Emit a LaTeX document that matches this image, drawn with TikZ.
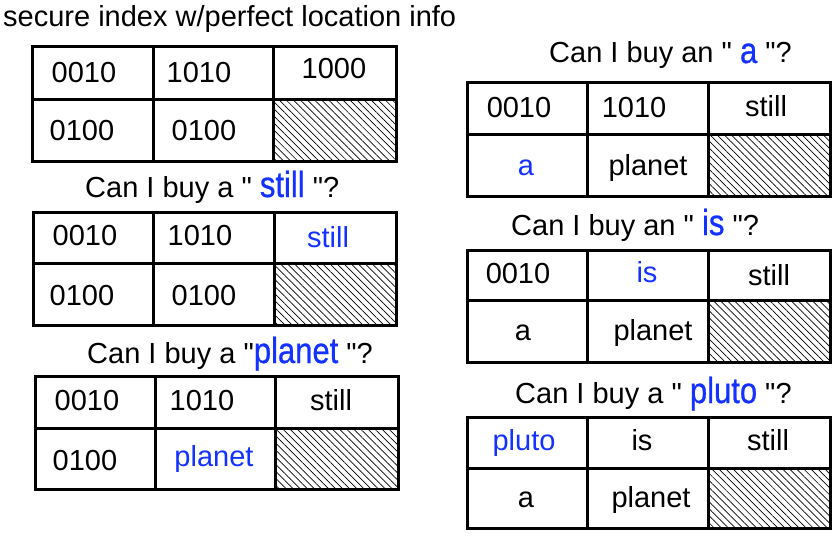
\documentclass[tikz,border=0pt]{standalone}
\usepackage{fontspec}
\setmainfont{Liberation Sans}[Ligatures=TeXOff]
\usetikzlibrary{patterns.meta}
\definecolor{qblue}{RGB}{20,50,255}
\newcommand\gridtab[7]{%
  \fill[pattern={Lines[angle=-45,distance=5pt,line width=0.7pt]}] (#7,#3) rectangle (#5,#4);
  \draw[tblline] (#1,#2) rectangle (#5,#4) (#1,#3) -- (#5,#3) (#6,#2) -- (#6,#4) (#7,#2) -- (#7,#4);}
\newcommand\bw[1]{{\color{qblue}\fontsize{31}{36}\selectfont\addfontfeature{FakeBold=0.8}\scalebox{1}[1.17]{#1}}}
\begin{document}
\begin{tikzpicture}[x=1pt,y=-1pt,
  tblline/.style={line width=3pt,line join=miter},
  cell/.style={anchor=base,inner sep=0pt,font=\fontsize{29}{34}\selectfont},
  bcell/.style={cell,text=qblue},
  ttl/.style={anchor=base west,inner sep=0pt,font=\fontsize{29}{34}\selectfont}]
\useasboundingbox[fill=white] (0,0) rectangle (837,535);
% titles
\node[ttl] (t0) at (3,27) {secure index w/perfect location info};
\node[ttl] (t1) at (85,197) {Can I buy a " \bw{still} "?};
\node[ttl] (t2) at (87,363) {Can I buy a "\bw{planet} "?};
\node[ttl] (t3) at (549,63) {Can I buy an " \bw{a} "?};
\node[ttl] (t4) at (511,235) {Can I buy an " \bw{is} "?};
\node[ttl] (t5) at (515,403) {Can I buy a " \bw{pluto} "?};
% table 1
\gridtab{32}{47}{99}{161}{396}{153}{273}
\node[cell] (a11) at (84,82) {0010};
\node[cell] (a12) at (199,82) {1010};
\node[cell] (a13) at (334,78) {1000};
\node[cell] (a21) at (82,140) {0100};
\node[cell] (a22) at (204,140) {0100};
% table 2
\gridtab{33}{212}{263}{325}{396}{153}{274}
\node[cell] (b11) at (85,245) {0010};
\node[cell] (b12) at (200,245) {1010};
\node[bcell] (b13) at (328,247) {still};
\node[cell] (b21) at (82,305) {0100};
\node[cell] (b22) at (204,305) {0100};
% table 3
\gridtab{35}{376}{428}{489}{398}{155}{275}
\node[cell] (c11) at (87,410) {0010};
\node[cell] (c12) at (202,410) {1010};
\node[cell] (c13) at (331,410) {still};
\node[cell] (c21) at (85,470) {0100};
\node[bcell] (c22) at (214,466) {planet};
% right A
\gridtab{467}{82}{134}{196}{830}{587}{708}
\node[cell] (d11) at (519,117) {0010};
\node[cell] (d12) at (634,117) {1010};
\node[cell] (d13) at (766,116) {still};
\node[bcell] (d21) at (526,175) {a};
\node[cell] (d22) at (648,175) {planet};
% right B
\gridtab{467}{250}{300}{362}{830}{587}{708}
\node[cell] (e11) at (518,283) {0010};
\node[bcell] (e12) at (647,282) {is};
\node[cell] (e13) at (769,285) {still};
\node[cell] (e21) at (523,340) {a};
\node[cell] (e22) at (653,340) {planet};
% right C
\gridtab{467}{417}{468}{528}{830}{587}{708}
\node[bcell] (f11) at (524,450) {pluto};
\node[cell] (f12) at (642,450) {is};
\node[cell] (f13) at (768,450) {still};
\node[cell] (f21) at (526,507) {a};
\node[cell] (f22) at (651,507) {planet};
\end{tikzpicture}
\end{document}
